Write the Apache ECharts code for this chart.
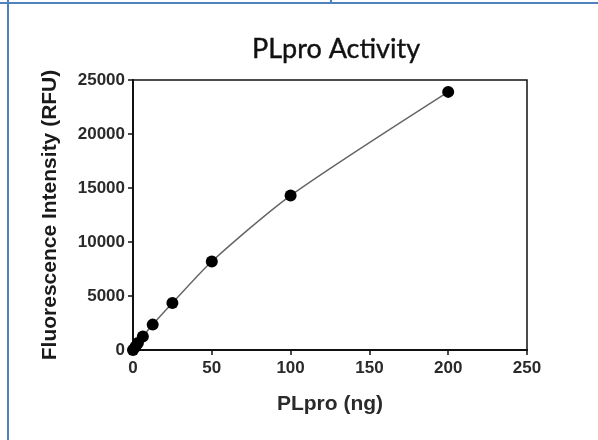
<!DOCTYPE html>
<html>
<head>
<meta charset="utf-8">
<script src="https://cdn.jsdelivr.net/npm/echarts@6/dist/echarts.min.js"></script>
<style>
  html, body { margin: 0; padding: 0; background: #fff; }
  #wrap { position: relative; width: 598px; height: 440px; overflow: hidden; }
  #chart { position: absolute; left: 0; top: 0; width: 598px; height: 440px; }
  .bl { position: absolute; background: #4F81BD; }
</style>
</head>
<body>
<div id="wrap">
  <div id="chart"></div>
  <div class="bl" style="left:7px;top:0;width:2px;height:440px;"></div>
  <div class="bl" style="left:0;top:2px;width:598px;height:2px;"></div>
  <div class="bl" style="left:330px;top:0;width:2px;height:3px;"></div>
</div>
<script>
const titleText = "PLpro Activity";
const xName = "PLpro (ng)";
const yName = "Fluorescence Intensity (RFU)";
const plproNg = [0, 1.5625, 3.125, 6.25, 12.5, 25, 50, 100, 200];
const rfu = [0, 300, 650, 1250, 2350, 4350, 8200, 14300, 23900];
const xTicks = [0, 50, 100, 150, 200, 250];
const yTicks = [0, 5000, 10000, 15000, 20000, 25000];

const pts = plproNg.map((x, i) => [x, rfu[i]]);
const chart = echarts.init(document.getElementById('chart'), null, { renderer: 'canvas' });
const axisFont = { fontFamily: 'Liberation Sans, Arial, sans-serif', fontSize: 17, fontWeight: 'bold', color: '#2a2a2a' };
chart.setOption({
  animation: false,
  title: {
    text: titleText, left: 331, top: 31, textAlign: 'center',
    textStyle: { fontFamily: 'Lato, sans-serif', fontSize: 27, fontWeight: 'normal', color: '#111', textBorderColor: '#111', textBorderWidth: 0.4 }
  },
  grid: { left: 133, right: 71, top: 80, bottom: 90, show: true, borderColor: '#111', borderWidth: 1.5, backgroundColor: 'transparent' },
  xAxis: {
    type: 'value', min: xTicks[0], max: xTicks[xTicks.length - 1], interval: 50,
    name: xName, nameLocation: 'middle', nameGap: 44,
    nameTextStyle: { fontFamily: 'Liberation Sans, Arial, sans-serif', fontSize: 21, fontWeight: 'bold', color: '#2a2a2a' },
    axisLine: { show: true, onZero: false, lineStyle: { color: '#111', width: 2 } },
    axisTick: { show: true, length: 5, lineStyle: { color: '#111', width: 1.5 } },
    axisLabel: Object.assign({ margin: 10, formatter: v => String(v) }, axisFont),
    splitLine: { show: false }
  },
  yAxis: {
    type: 'value', min: yTicks[0], max: yTicks[yTicks.length - 1], interval: 5000,
    name: yName, nameLocation: 'middle', nameGap: 72, nameRotate: 90,
    nameTextStyle: { fontFamily: 'Liberation Sans, Arial, sans-serif', fontSize: 21, fontWeight: 'bold', color: '#1a1a1a' },
    axisLine: { show: true, onZero: false, lineStyle: { color: '#111', width: 2 } },
    axisTick: { show: true, length: 5, lineStyle: { color: '#111', width: 1.5 } },
    axisLabel: Object.assign({ margin: 8, formatter: v => String(v) }, axisFont),
    splitLine: { show: false }
  },
  series: [{
    type: 'line', data: pts, smooth: 0.25,
    lineStyle: { color: '#666', width: 1.5 },
    symbol: 'circle', symbolSize: 12,
    itemStyle: { color: '#000' },
    z: 3
  }]
});
</script>
</body>
</html>
